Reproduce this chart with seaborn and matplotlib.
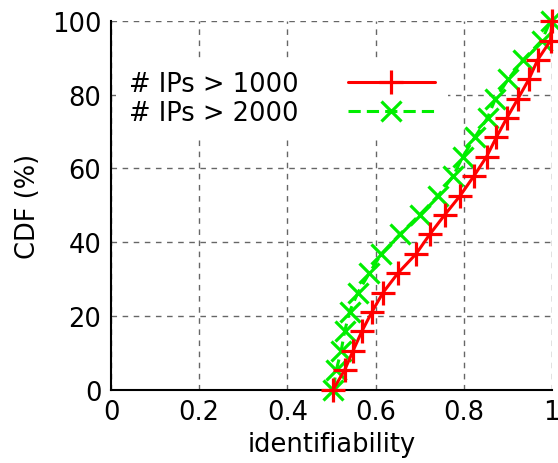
import matplotlib
matplotlib.use("Agg")
import matplotlib.pyplot as plt
import seaborn as sns
import pandas as pd

cdf = [0, 5.3, 10.5, 15.8, 21.1, 26.3, 31.6, 36.8, 42.1, 47.4,
       52.6, 57.9, 63.2, 68.4, 73.7, 78.9, 84.2, 89.5, 94.7, 100]
ident_1000 = [0.504, 0.530, 0.549, 0.569, 0.592, 0.617, 0.651, 0.692, 0.723, 0.757,
              0.792, 0.823, 0.852, 0.874, 0.898, 0.923, 0.948, 0.968, 0.997, 1.0]
ident_2000 = [0.504, 0.511, 0.522, 0.530, 0.541, 0.560, 0.586, 0.613, 0.655, 0.700,
              0.742, 0.776, 0.798, 0.825, 0.854, 0.872, 0.901, 0.935, 0.977, 0.997]
labels = ["# IPs > 1000", "# IPs > 2000"]
x_ticks = [0, 0.2, 0.4, 0.6, 0.8, 1]
x_tick_labels = ["0", "0.2", "0.4", "0.6", "0.8", "1"]
y_ticks = [0, 20, 40, 60, 80, 100]

sns.set_style("white")
plt.rcParams['font.family'] = ['DejaVu Sans']
plt.rcParams['text.color'] = 'black'
plt.rcParams['axes.labelcolor'] = 'black'

FS = 18.5

fig = plt.figure(figsize=(5.58, 4.64), dpi=100)
ax = fig.add_axes([0.199, 0.1584, 0.790, 0.7942])

df1 = pd.DataFrame({"x": ident_1000, "y": cdf})
df2 = pd.DataFrame({"x": ident_2000, "y": cdf})

sns.lineplot(data=df1, x="x", y="y", ax=ax, sort=False, estimator=None,
             color="#ff0000", linewidth=2.2)
sns.lineplot(data=df2, x="x", y="y", ax=ax, sort=False, estimator=None,
             color="#00ee00", linewidth=2.2)

l1, l2 = ax.lines[0], ax.lines[1]
l1.set_linestyle("-")
l1.set_marker("+")
l1.set_markersize(17)
l1.set_markeredgewidth(2.3)
l1.set_markeredgecolor("#ff0000")
l1.set_clip_on(False)
l1.set_zorder(4)
l1.set_label(labels[0])

l2.set_linestyle((0, (4, 2)))
l2.set_marker("x")
l2.set_markersize(14)
l2.set_markeredgewidth(2.3)
l2.set_markeredgecolor("#00ee00")
l2.set_clip_on(False)
l2.set_zorder(3)
l2.set_label(labels[1])

ax.set_xlim(0, 1)
ax.set_ylim(0, 100)
ax.set_xticks(x_ticks)
ax.set_xticklabels(x_tick_labels)
ax.set_yticks(y_ticks)
ax.tick_params(axis="both", length=0, pad=7, labelsize=FS, colors="black")
ax.set_xlabel("identifiability", fontsize=FS, labelpad=4, color="black")
ax.set_ylabel("CDF (%)", fontsize=FS, labelpad=8, color="black")

ax.grid(True, color="#666666", linestyle=(0, (4, 4)), linewidth=1.0)
ax.set_axisbelow(True)
for s in ["top", "right"]:
    ax.spines[s].set_visible(False)
for s in ["left", "bottom"]:
    ax.spines[s].set_color("black")
    ax.spines[s].set_linewidth(1.5)

leg = ax.legend(handles=[l1, l2], labels=labels, loc="upper left",
                bbox_to_anchor=(0.012, 0.899), markerfirst=False,
                fontsize=FS, frameon=True, fancybox=False, framealpha=1,
                handlelength=3.4, handletextpad=1.9, labelspacing=0.1,
                borderpad=0.5, borderaxespad=0)
leg.get_frame().set_edgecolor("none")
leg.get_frame().set_facecolor("white")
leg.set_zorder(2)

fig.savefig("out.png", dpi=100)
